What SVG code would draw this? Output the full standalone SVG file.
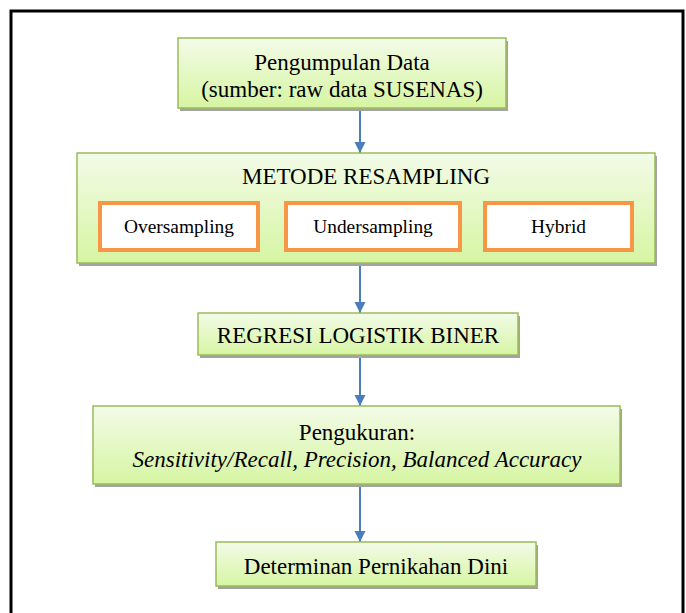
<svg xmlns="http://www.w3.org/2000/svg" width="686" height="613" viewBox="0 0 686 613">
  <defs>
    <linearGradient id="gf" x1="0" y1="0" x2="0" y2="1">
      <stop offset="0" stop-color="#F3FBE8"/>
      <stop offset="1" stop-color="#D6F5A2"/>
    </linearGradient>
    <marker id="ah" markerUnits="userSpaceOnUse" markerWidth="12" markerHeight="12" viewBox="0 0 12 12" refX="11" refY="6" orient="auto">
      <path d="M0,0.5 L11,6 L0,11.5 Z" fill="#4A7EBB"/>
    </marker>
    <style>
      .shadow { fill: #A3A3A3; }
      .box { fill: url(#gf); stroke: #9BBB59; stroke-width: 1.5; }
      .sub { fill: #FFFFFF; stroke: #F79646; stroke-width: 4; }
      .t { font-family: "Liberation Serif", "Times New Roman", serif; font-size: 23px; fill: #000; text-anchor: middle; }
      .ts { font-family: "Liberation Serif", "Times New Roman", serif; font-size: 19.4px; fill: #000; text-anchor: middle; }
      .it { font-style: italic; }
      .conn { stroke: #4A7EBB; stroke-width: 2; fill: none; marker-end: url(#ah); }
    </style>
  </defs>

  <rect x="0" y="0" width="686" height="613" fill="#FFFFFF"/>
  <rect x="11" y="11" width="672" height="640" fill="none" stroke="#000" stroke-width="3"/>

  <g id="connectors">
    <line class="conn" x1="360" y1="108" x2="360" y2="153"/>
    <line class="conn" x1="360" y1="252" x2="360" y2="313"/>
    <line class="conn" x1="360" y1="355" x2="360" y2="406"/>
    <line class="conn" x1="360" y1="484" x2="360" y2="542"/>
  </g>

  <g id="pengumpulan">
    <rect class="shadow" x="180" y="41" width="328" height="70"/>
    <rect class="box" x="178" y="38" width="328" height="70"/>
    <text class="t" x="342" y="70">Pengumpulan Data</text>
    <text class="t" x="342" y="97">(sumber: raw data SUSENAS)</text>
  </g>

  <g id="metode">
    <rect class="shadow" x="79" y="156" width="578" height="110"/>
    <rect class="box" x="77" y="153" width="578" height="110"/>
    <text class="t" x="366" y="184">METODE RESAMPLING</text>
    <g id="oversampling">
      <rect class="sub" x="100" y="203" width="158" height="47"/>
      <text class="ts" x="179" y="233">Oversampling</text>
    </g>
    <g id="undersampling">
      <rect class="sub" x="286" y="203" width="174" height="47"/>
      <text class="ts" x="373" y="233">Undersampling</text>
    </g>
    <g id="hybrid">
      <rect class="sub" x="485" y="203" width="147" height="47"/>
      <text class="ts" x="558.5" y="233">Hybrid</text>
    </g>
  </g>

  <g id="regresi">
    <rect class="shadow" x="200" y="316" width="320" height="42"/>
    <rect class="box" x="198" y="313" width="320" height="42"/>
    <text class="t" x="358" y="343">REGRESI LOGISTIK BINER</text>
  </g>

  <g id="pengukuran">
    <rect class="shadow" x="95" y="409" width="527" height="78"/>
    <rect class="box" x="93" y="406" width="527" height="78"/>
    <text class="t" x="357" y="440">Pengukuran:</text>
    <text class="t it" x="357" y="467">Sensitivity/Recall, Precision, Balanced Accuracy</text>
  </g>

  <g id="determinan">
    <rect class="shadow" x="218" y="545" width="320" height="44"/>
    <rect class="box" x="216" y="542" width="320" height="44"/>
    <text class="t" x="376" y="574">Determinan Pernikahan Dini</text>
  </g>
</svg>
